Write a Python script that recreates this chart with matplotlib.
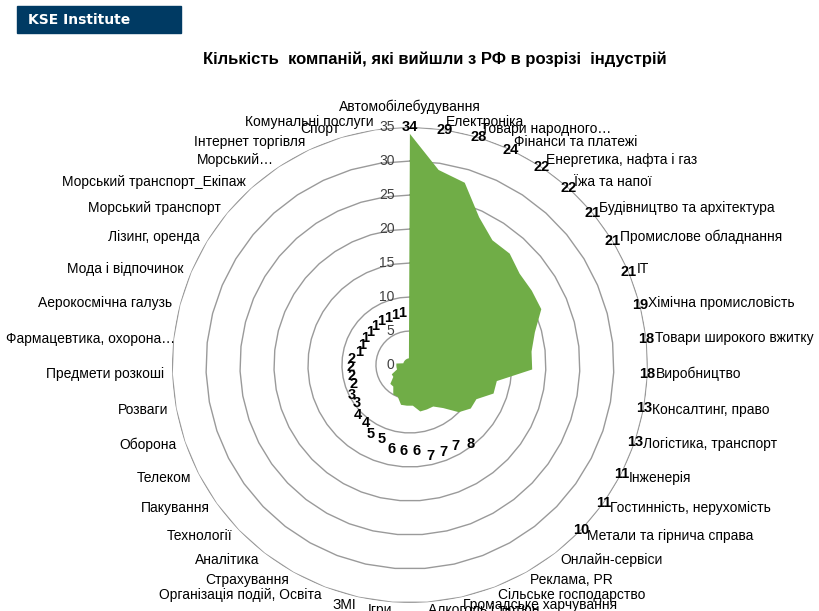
import numpy as np
import matplotlib.pyplot as plt
from matplotlib.patches import Rectangle

plt.rcParams['font.family'] = ['Liberation Sans', 'DejaVu Sans']

industries = ['Автомобілебудування', 'Електроніка', 'Товари народного…', 'Фінанси та платежі',
              'Енергетика, нафта і газ', 'Їжа та напої', 'Будівництво та архітектура',
              'Промислове обладнання', 'ІТ', 'Хімічна промисловість', 'Товари широкого вжитку',
              'Виробництво', 'Консалтинг, право', 'Логістика, транспорт', 'Інженерія',
              'Гостинність, нерухомість', 'Метали та гірнича справа', 'Онлайн-сервіси',
              'Реклама, PR', 'Сільське господарство', 'Громадське харчування', 'Алкоголь і тютюн',
              'Ігри', 'ЗМІ', 'Організація подій, Освіта', 'Страхування', 'Аналітика', 'Технології',
              'Пакування', 'Телеком', 'Оборона', 'Розваги', 'Предмети розкоші',
              'Фармацевтика, охорона…', 'Аерокосмічна галузь', 'Мода і відпочинок',
              'Лізинг, оренда', 'Морський транспорт', 'Морський транспорт_Екіпаж', 'Морський…',
              'Інтернет торгівля', 'Спорт', 'Комунальні послуги']
companies = [34, 29, 28, 24, 22, 22, 21, 21, 21, 19, 18, 18, 13, 13, 11, 11, 10,
             8, 7, 7, 7, 6, 6, 6, 5, 5, 4, 4, 3, 3, 2, 2, 2, 2,
             1, 1, 1, 1, 1, 1, 1, 1, 1]
rings = [5, 10, 15, 20, 25, 30, 35]
ring_labels = [0, 5, 10, 15, 20, 25, 30, 35]

n = len(industries)
theta = np.linspace(0, 2 * np.pi, n, endpoint=False)
theta_c = np.append(theta, theta[0])

fig = plt.figure(figsize=(8.19, 6.11), dpi=100)

# header badge
fig.patches.append(Rectangle((17 / 819, 1 - 33 / 611), 164 / 819, 27 / 611,
                             transform=fig.transFigure, color='#003A63'))
fig.text(28 / 819, 1 - 19.5 / 611, 'KSE Institute', color='white', fontsize=10,
         fontweight='bold', family='DejaVu Sans', va='center', ha='left')

fig.text(435 / 819, 1 - 59 / 611, 'Кількість  компаній, які вийшли з РФ в розрізі  індустрій',
         fontsize=12, fontweight='bold', ha='center', va='center')

ax = fig.add_axes([0.210, 0.0131, 0.581, 0.779], projection='polar')
ax.set_theta_zero_location('N')
ax.set_theta_direction(-1)
ax.set_ylim(0, 35)
ax.grid(False)
ax.spines['polar'].set_visible(False)
ax.set_xticks([])
ax.set_yticks([])

for r in rings:
    ax.plot(theta_c, [r] * (n + 1), color='#9a9a9a', lw=1, zorder=1)

ax.fill(theta_c, np.append(companies, companies[0]), color='#70AD47', lw=0, zorder=2)

for v in ring_labels:
    ax.annotate(str(v), xy=(0, v), xytext=(-11, 0), textcoords='offset points',
                ha='right', va='center', fontsize=10, color='#404040')

for i, (name, v) in enumerate(zip(industries, companies)):
    th = theta[i]
    r_lab = 35 if v >= 10 else v + 6.7
    ax.text(th, r_lab, str(v), fontsize=10.5, fontweight='bold', ha='center', va='center')
    deg = np.degrees(th)
    if i == 0:
        ax.text(th, 36.9, name, fontsize=10, ha='center', va='bottom')
    else:
        ha = 'left' if deg < 180 else 'right'
        r_name = 34.7 if name.startswith('Фармацевтика') else 36.2
        ax.text(th, r_name, name, fontsize=10, ha=ha, va='center')

fig.savefig('out.png', dpi=100)
